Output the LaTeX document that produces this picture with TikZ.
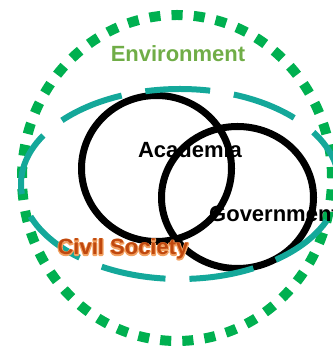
\documentclass[tikz,border=0pt]{standalone}
\usepackage{fontspec}
\setsansfont{Liberation Sans}
\usepackage[dvipsnames]{xcolor}
\definecolor{envgreen}{RGB}{0,176,80}
\definecolor{envtext}{RGB}{112,173,71}
\definecolor{civteal}{RGB}{20,168,154}
\definecolor{civred}{RGB}{192,72,14}
\newcommand{\glowtext}[1]{\special{pdf:literal direct 1 Tr 2 w 1 J 1 j 0.95 0.63 0.38 RG}#1\special{pdf:literal direct 0 Tr}}

\begin{document}
\begin{tikzpicture}[x=1pt,y=1pt,
    ring/.style={line width=7pt,draw=black},
    env ring/.style={line width=10pt,draw=envgreen,dash pattern=on 11.1pt off 11.1pt},
    civ ring/.style={line width=6pt,draw=civteal,dash pattern=on 65pt off 24pt,dash phase=5.5pt},
    label node/.style={font=\sffamily\bfseries\fontsize{22}{24}\selectfont,inner sep=0pt,anchor=base}]
    \useasboundingbox (0,0) rectangle (332,355);

    % outer rings
    \draw[env ring] (177,177) ellipse [x radius=155pt,y radius=163pt];
    \draw[ring] (156.5,186.5) ellipse [x radius=75pt,y radius=73pt];
    \draw[ring] (237.5,157.5) ellipse [x radius=76pt,y radius=71pt];
    \draw[civ ring] (180,171) ellipse [x radius=159pt,y radius=95pt];

    % labels
    \node[label node,text=envtext] (env) at (178,293) {Environment};
    \node[label node,text=black] (acad) at (190,197) {Academia};
    \node[label node,text=black,anchor=base west] (gov) at (209,133) {Government};
    \node[label node] (civglow) at (123,100) {\glowtext{Civil Society}};
    \node[label node,text=civred] (civ) at (123,100) {Civil Society};
\end{tikzpicture}
\end{document}
